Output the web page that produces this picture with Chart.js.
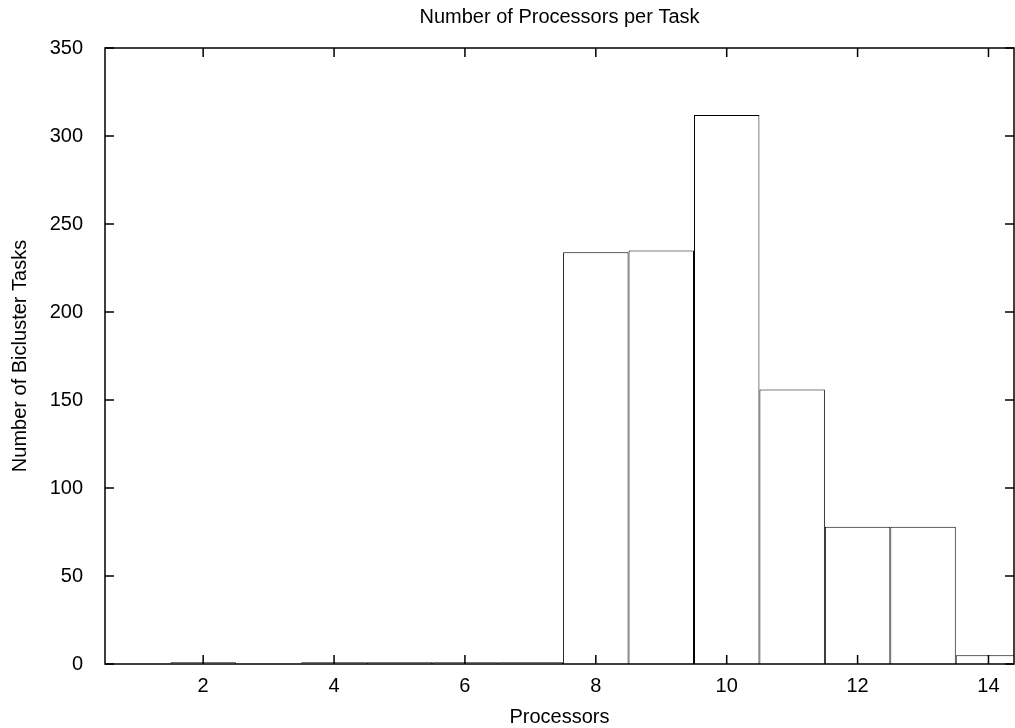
<!DOCTYPE html>
<html><head><meta charset="utf-8">
<script src="https://cdn.jsdelivr.net/npm/chart.js@4/dist/chart.umd.min.js"></script>
<style>html,body{margin:0;padding:0;background:#fff}</style>
</head><body>
<canvas id="c" width="1015" height="728"></canvas>
<script>
const processors = [2, 4, 5, 6, 7, 8, 9, 10, 11, 12, 13, 14];
const taskCounts = [1, 1, 1, 1, 1, 234, 235, 312, 156, 78, 78, 5];
const xTickValues = [2, 4, 6, 8, 10, 12, 14];
const yTickValues = [0, 50, 100, 150, 200, 250, 300, 350];
const titleText = 'Number of Processors per Task';
const xLabel = 'Processors';
const yLabel = 'Number of Bicluster Tasks';

const FONT = "'Liberation Sans', Arial, Helvetica, sans-serif";
Chart.defaults.font.family = FONT;
Chart.defaults.font.size = 20;
Chart.defaults.color = '#000';

const framePlugin = {
  id: 'frame',
  afterDraw(chart) {
    const {ctx, chartArea: a, scales: {x, y}} = chart;
    ctx.save();
    ctx.strokeStyle = '#000';
    ctx.lineWidth = 1.5;
    ctx.strokeRect(a.left, a.top, a.right - a.left, a.bottom - a.top);
    const tl = 9;
    ctx.beginPath();
    xTickValues.forEach(v => {
      const px = x.getPixelForValue(v);
      ctx.moveTo(px, a.bottom); ctx.lineTo(px, a.bottom - tl);
      ctx.moveTo(px, a.top); ctx.lineTo(px, a.top + tl);
    });
    yTickValues.forEach(v => {
      const py = y.getPixelForValue(v);
      ctx.moveTo(a.left, py); ctx.lineTo(a.left + tl, py);
      ctx.moveTo(a.right, py); ctx.lineTo(a.right - tl, py);
    });
    ctx.stroke();
    ctx.fillStyle = '#000';
    ctx.font = '20px ' + FONT;
    ctx.textAlign = 'center';
    ctx.textBaseline = 'middle';
    ctx.fillText(titleText, (a.left + a.right) / 2, 17);
    ctx.restore();
  }
};

new Chart(document.getElementById('c'), {
  type: 'bar',
  data: {
    datasets: [{
      data: processors.map((p, i) => ({x: p, y: taskCounts[i]})),
      backgroundColor: '#fff',
      borderColor: '#000',
      borderWidth: 1,
      inflateAmount: 0,
      barPercentage: 1,
      categoryPercentage: 1,
      clip: 0
    }]
  },
  options: {
    responsive: false,
    animation: false,
    devicePixelRatio: 1,
    layout: {padding: {top: 48, right: 1, left: 0, bottom: 0}},
    plugins: {legend: {display: false}, tooltip: {enabled: false}, title: {display: false}},
    scales: {
      x: {
        type: 'linear',
        offset: false,
        min: 0.5,
        max: 14.39,
        grid: {display: false, offset: false},
        border: {display: false},
        ticks: {padding: 2, autoSkip: false, maxRotation: 0},
        afterBuildTicks(s) { s.ticks = xTickValues.map(v => ({value: v})); },
        afterFit(s) { s.height = 64; },
        title: {display: true, text: xLabel, padding: {top: 0, bottom: -1}}
      },
      y: {
        type: 'linear',
        min: 0,
        max: 350,
        grid: {display: false},
        border: {display: false},
        ticks: {padding: 14},
        afterBuildTicks(s) { s.ticks = yTickValues.map(v => ({value: v})); },
        afterFit(s) { s.width = 105; },
        title: {display: true, text: yLabel, padding: {top: 8, bottom: 0}}
      }
    }
  },
  plugins: [framePlugin]
});
</script>
</body></html>
